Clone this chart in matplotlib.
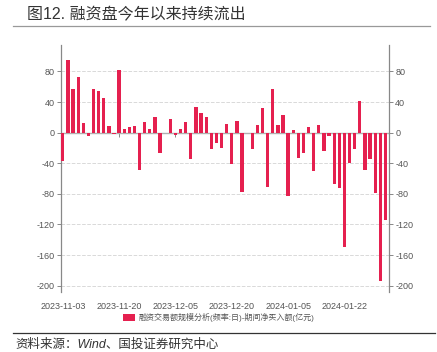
import matplotlib
matplotlib.use('Agg')
import matplotlib.pyplot as plt
from matplotlib.patches import Patch
import pandas as pd

plt.rcParams['font.family'] = ['Liberation Sans', 'Noto Sans CJK SC', 'DejaVu Sans']
plt.rcParams['axes.unicode_minus'] = False

# trading days 2023-11-03 .. 2024-02-01 (2024-01-01 closed)
dates = pd.bdate_range('2023-11-03', '2024-02-01').drop(pd.Timestamp('2024-01-01'))
labels = [d.strftime('%Y-%m-%d') for d in dates]

# 期间净买入额(亿元)
net_buy = [-37, 95, 57, 73, 13, -5, 57, 55, 45, 9, -2, 82, 5, 8, 9, -49,
           14, 5, 20, -27, -0.5, 18, -3, 5, 14, -35, 34, 26, 20, -21, -13, -20,
           11, -41, 15, -77, -0.5, -22, 10, 32, -71, 57, 10, 23, -83, 4, -33, -26,
           8, -50, 10, -24, -5, -67, -72, -150, -40, -21, 41, -49, -35, -79, -194, -114]

tick_every = 11
yticks = [-200, -160, -120, -80, -40, 0, 40, 80]

title = '图12. 融资盘今年以来持续流出'
legend_label = '融资交易额规模分析(频率:日)-期间净买入额(亿元)'
source = '资料来源：Wind、国投证券研究中心'

bar_color = '#E5204F'
axis_color = '#888888'

fig = plt.figure(figsize=(4.37, 3.52), dpi=100)
ax = fig.add_axes([0.1396, 0.171, 0.7506, 0.70])

x = list(range(len(net_buy)))
ax.bar(x, net_buy, width=0.64, color=bar_color, zorder=3)

ax.set_xlim(-0.35, len(net_buy) - 0.3)
ax.set_ylim(-208, 114)
ax.set_yticks(yticks)
ax.yaxis.grid(True, linestyle='--', color='#d9d9d9', linewidth=0.7)
ax.axhline(0, color='#b0b0b0', linewidth=1.0, zorder=2)

for s in ['top', 'bottom']:
    ax.spines[s].set_visible(False)
for s in ['left', 'right']:
    ax.spines[s].set_color(axis_color)
    ax.spines[s].set_linewidth(0.9)

ax.tick_params(axis='y', which='both', labelsize=6.5, colors=axis_color,
               length=3, width=0.7, left=True, right=True,
               labelleft=True, labelright=True, pad=1.5)
for t in ax.get_yticklabels() + ax.yaxis.get_ticklabels(which='major'):
    t.set_color('#555555')
ax.tick_params(axis='y', labelcolor='#555555')

tick_pos = x[::tick_every]
ax.set_xticks(tick_pos)
ax.set_xticklabels(labels[::tick_every])
ax.tick_params(axis='x', length=0, labelsize=6.5, labelcolor='#555555', pad=7)

# small tick marks on the zero line
sec = ax.secondary_xaxis(0, transform=ax.transData)
sec.set_xticks(tick_pos)
sec.set_xticklabels([])
sec.tick_params(axis='x', length=3, width=0.7, color=axis_color)
sec.spines['bottom'].set_visible(False)

fig.legend(handles=[Patch(facecolor=bar_color, edgecolor='none')],
           labels=[legend_label], loc='center', bbox_to_anchor=(0.5, 0.097),
           frameon=False, fontsize=5.8, handlelength=1.6, handleheight=0.9,
           handletextpad=0.4, labelcolor='#555555')

fig.text(0.062, 0.957, title, fontsize=11.5, color='#333333', va='center', ha='left')
fig.add_artist(plt.Line2D([0.03, 0.985], [0.926, 0.926], color='#999999', linewidth=0.9))
fig.add_artist(plt.Line2D([0.03, 0.995], [0.055, 0.055], color='#333333', linewidth=0.9))
fig.text(0.035, 0.022, source, fontsize=9, color='#333333', va='center', ha='left',
         style='italic')

plt.savefig('out.png', dpi=100)
